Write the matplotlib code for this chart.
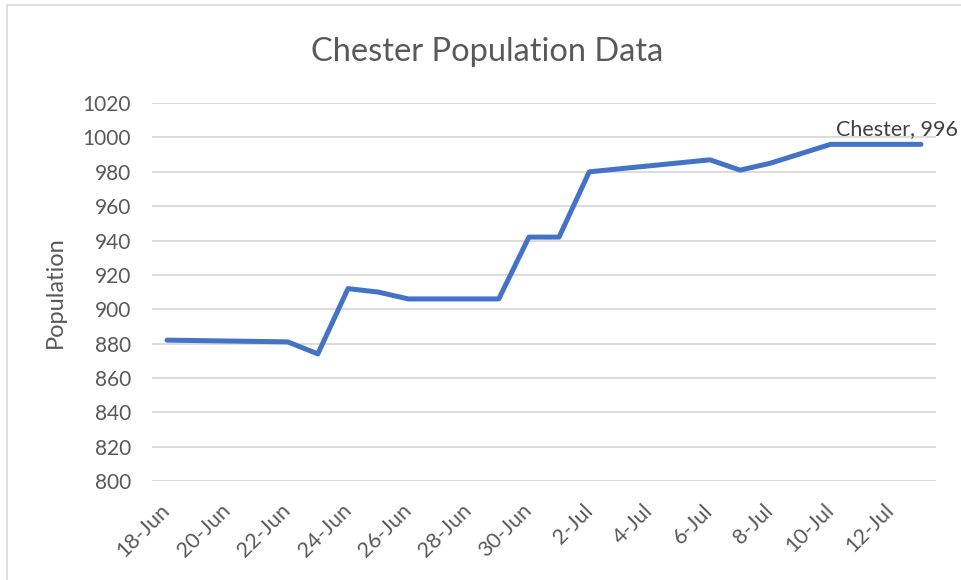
"""
plot.py — Chester population line chart (Excel-style).
"""

import datetime as dt

import matplotlib
matplotlib.use("Agg")
import matplotlib.pyplot as plt
import matplotlib.dates as mdates
from matplotlib.patches import Rectangle
from matplotlib.ticker import FuncFormatter, MultipleLocator


# ── Data ─────────────────────────────────────────────────────────────────

dates = [
    "2020-06-18", "2020-06-22", "2020-06-23", "2020-06-24", "2020-06-25",
    "2020-06-26", "2020-06-29", "2020-06-30", "2020-07-01", "2020-07-02",
    "2020-07-06", "2020-07-07", "2020-07-08", "2020-07-10", "2020-07-13",
]
population = [882, 881, 874, 912, 910, 906, 906, 942, 942, 980,
              987, 981, 985, 996, 996]

series_name = "Chester"
title = "Chester Population Data"
y_label = "Population"


# ── Styling ──────────────────────────────────────────────────────────────

TEXT_GREY = "#595959"
GRID_GREY = "#d9d9d9"
LINE_BLUE = "#4472c4"

plt.rcParams["font.family"] = ["Lato", "DejaVu Sans"]

x = [dt.datetime.strptime(d, "%Y-%m-%d") for d in dates]

fig = plt.figure(figsize=(9.62, 5.80), dpi=100)
ax = fig.add_axes([0.158, 0.1707, 0.815, 0.6515])

ax.plot(x, population, color=LINE_BLUE, linewidth=3.6,
        solid_capstyle="round", solid_joinstyle="round", zorder=3)

# axes limits / ticks (a tick every second day from the first date)
half_day = dt.timedelta(hours=12)
ax.set_xlim(x[0] - half_day, x[-1] + half_day)
ax.set_ylim(800, 1020)
ax.yaxis.set_major_locator(MultipleLocator(20))
n_days = (x[-1] - x[0]).days
ax.set_xticks([x[0] + dt.timedelta(days=d) for d in range(0, n_days + 1, 2)])
ax.xaxis.set_major_formatter(
    FuncFormatter(lambda v, _: f"{mdates.num2date(v).day}-{mdates.num2date(v):%b}")
)

ax.grid(axis="y", color=GRID_GREY, linewidth=1.3, zorder=0)
for s in ax.spines.values():
    s.set_visible(False)
ax.tick_params(axis="both", length=0, colors=TEXT_GREY, labelsize=15)
ax.tick_params(axis="y", pad=15)
ax.tick_params(axis="x", pad=19, labelsize=15.5)
for lbl in ax.get_xticklabels():
    lbl.set_rotation(45)
    lbl.set_ha("right")
    lbl.set_va("center")
    lbl.set_rotation_mode("anchor")

ax.set_ylabel(y_label, color=TEXT_GREY, fontsize=17, labelpad=12)

# data label on last point
ax.annotate(f"{series_name}, {population[-1]}", xy=(x[-1], population[-1]),
            xytext=(-61, 4), textcoords="offset points",
            color="#404040", fontsize=15.5, ha="left", va="bottom")

fig.text(0.506, 0.895, title, color=TEXT_GREY, fontsize=23.5,
         ha="center", va="baseline")

# chart-area border (only left/top visible in the crop)
fig.patches.append(Rectangle((7 / 962, -0.05), 1.2, 1.05 - 5 / 580,
                             transform=fig.transFigure, fill=False,
                             edgecolor=GRID_GREY, linewidth=1.2))

fig.savefig("out.png", dpi=100)
plt.close(fig)
